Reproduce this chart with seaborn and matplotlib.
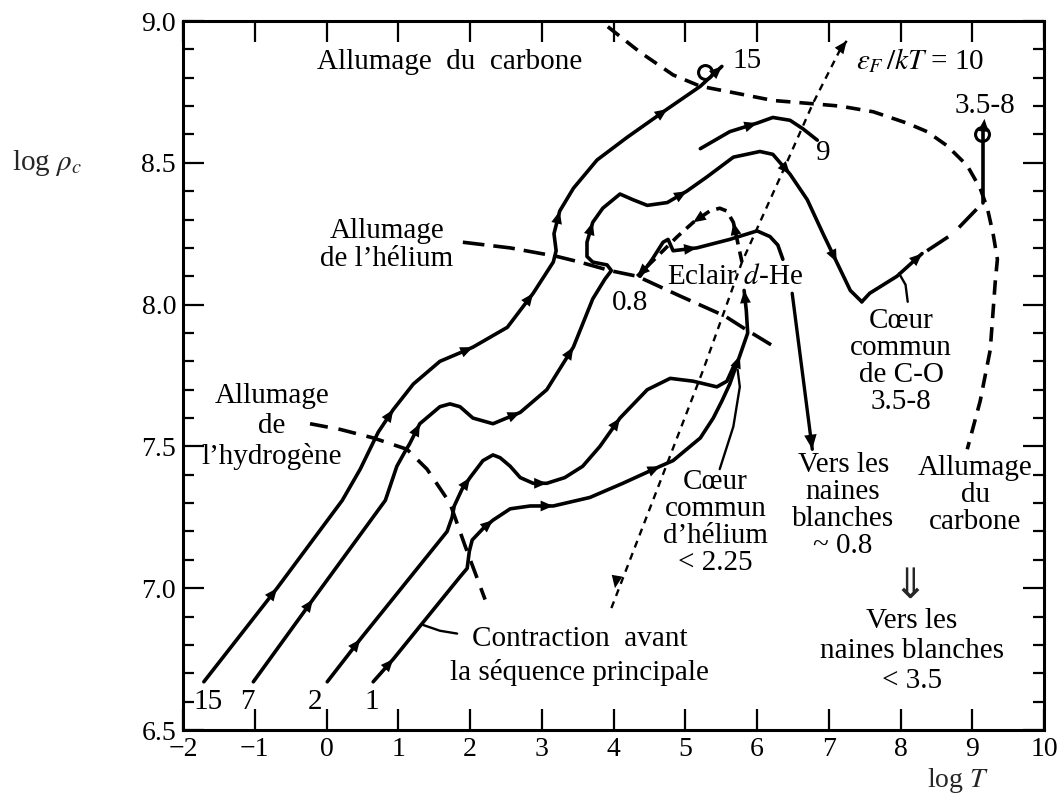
import matplotlib
matplotlib.use("Agg")
import numpy as np
import pandas as pd
import matplotlib.pyplot as plt
import seaborn as sns
from matplotlib.ticker import MultipleLocator

##### DATA (log T, log rho_c) #####

# evolutionary tracks
T_15 = [-1.71, -0.69, 0.22, 0.47, 0.72, 0.93, 1.21, 1.58, 1.86, 2.04, 2.52, 2.88, 3.16, 3.20, 3.17,
        3.25, 3.44, 3.77, 4.19, 4.75, 5.21, 5.51]
R_15 = [6.67, 7.00, 7.31, 7.42, 7.55, 7.63, 7.72, 7.80, 7.83, 7.85, 7.92, 8.04, 8.15, 8.19, 8.25,
        8.33, 8.41, 8.51, 8.59, 8.69, 8.77, 8.84]
arrows_15 = [1, 5, 9, 11, 15, 19, 21]

T_7 = [-1.02, -0.19, 0.82, 0.98, 1.09, 1.16, 1.30, 1.58, 1.72, 1.86, 2.04, 2.32, 2.70, 3.07, 3.44,
       3.71, 3.88, 3.97, 3.91, 3.71, 3.63, 3.63, 3.71, 3.85, 4.09, 4.27, 4.47, 4.75, 5.02, 5.30,
       5.67, 6.04, 6.22, 6.46, 6.70, 6.92, 7.11, 7.30, 7.46]
R_7 = [6.67, 6.96, 7.31, 7.43, 7.48, 7.51, 7.58, 7.64, 7.65, 7.64, 7.60, 7.58, 7.62, 7.70, 7.85,
       8.02, 8.09, 8.12, 8.14, 8.15, 8.17, 8.22, 8.29, 8.34, 8.39, 8.37, 8.35, 8.36, 8.40, 8.45,
       8.52, 8.54, 8.53, 8.46, 8.37, 8.25, 8.15, 8.05, 8.01]
arrows_7 = [1, 6, 12, 14, 22, 28, 33, 36]

T_2 = [0.01, 0.47, 1.68, 1.75, 1.78, 1.89, 2.00, 2.18, 2.32, 2.42, 2.56, 2.70, 2.88, 3.07, 3.32,
       3.57, 3.81, 4.09, 4.47, 4.79, 5.11, 5.44, 5.58, 5.67]
R_2 = [6.67, 6.82, 7.20, 7.25, 7.29, 7.35, 7.39, 7.45, 7.47, 7.46, 7.43, 7.39, 7.37, 7.37, 7.39,
       7.43, 7.50, 7.60, 7.70, 7.74, 7.73, 7.71, 7.73, 7.78]
arrows_2 = [1, 6, 13, 17]

T_1 = [0.65, 0.93, 1.86, 1.96, 1.99, 2.03, 2.18, 2.32, 2.56, 2.84, 3.16, 3.67, 4.13, 4.65, 4.83,
       5.02, 5.21, 5.39, 5.51, 5.62, 5.76, 5.87, 5.85, 5.82]
R_1 = [6.67, 6.75, 7.04, 7.07, 7.13, 7.17, 7.21, 7.24, 7.28, 7.29, 7.29, 7.32, 7.37, 7.43, 7.45,
       7.49, 7.53, 7.60, 7.66, 7.72, 7.82, 7.90, 7.98, 8.05]
arrows_1 = [1, 7, 10, 13, 20, 23]

T_9 = [5.21, 5.62, 6.00, 6.22, 6.46, 6.64, 6.84]
R_9 = [8.55, 8.61, 8.64, 8.66, 8.65, 8.62, 8.58]
arrows_9 = [2]

# common C-O core
T_co = [7.46, 7.57, 7.95, 8.30]
R_co = [8.01, 8.04, 8.10, 8.18]
T_co_dash = [8.37, 8.73, 9.15]
R_co_dash = [8.19, 8.25, 8.36]
T_co_up = [9.15, 9.15]
R_co_up = [8.36, 8.63]

# helium flash
T_flash = [5.79, 5.73, 5.67, 5.58, 5.48, 5.34, 5.11, 4.89, 4.61, 4.33]
R_flash = [8.15, 8.22, 8.29, 8.33, 8.34, 8.33, 8.29, 8.24, 8.17, 8.10]
arrows_flash = [2, 6, 9]
T_after = [4.37, 4.54, 4.69, 4.76, 4.83, 5.16, 5.62, 6.00, 6.18, 6.29, 6.36]
R_after = [8.10, 8.16, 8.22, 8.23, 8.19, 8.20, 8.23, 8.26, 8.24, 8.21, 8.16]
arrows_after = [5]

# ignition lines
T_H = [-0.23, 0.19, 0.65, 1.12, 1.40, 1.72, 1.93, 2.21]
R_H = [7.58, 7.56, 7.53, 7.49, 7.42, 7.30, 7.15, 6.96]
T_He = [1.90, 2.56, 3.21, 3.53, 3.95, 4.33, 4.93, 5.55, 5.86, 6.25]
R_He = [8.22, 8.20, 8.17, 8.15, 8.12, 8.10, 8.03, 7.96, 7.91, 7.85]
T_C = [3.92, 4.37, 4.83, 5.21, 5.62, 6.22, 6.70, 7.16, 7.62, 8.09, 8.37, 8.65, 8.93, 9.11, 9.21,
       9.29, 9.35, 9.32, 9.25, 9.11, 8.93]
R_C = [8.98, 8.89, 8.81, 8.77, 8.75, 8.72, 8.71, 8.70, 8.68, 8.64, 8.61, 8.56, 8.49, 8.41, 8.34,
       8.25, 8.16, 8.08, 7.84, 7.66, 7.49]

# degeneracy line eps_F/kT = 10
T_eps = [3.97, 4.55, 5.25, 5.79, 6.36, 6.78, 7.16, 7.25]
R_eps = [6.93, 7.31, 7.77, 8.15, 8.47, 8.71, 8.90, 8.93]

# label pointers
T_ptr_contr = [1.35, 1.58, 1.82]
R_ptr_contr = [6.87, 6.85, 6.84]
T_ptr_he = [5.48, 5.67, 5.76, 5.73]
R_ptr_he = [7.42, 7.57, 7.71, 7.77]
T_ptr_co = [8.10, 8.07, 7.98]
R_ptr_co = [8.01, 8.07, 8.11]
T_ptr_wd = [6.49, 6.77]
R_ptr_wd = [8.04, 7.49]

# open circles (carbon ignition reached)
T_circ = [5.28, 9.14]
R_circ = [8.82, 8.60]

# mass labels at track starts
start_labels = ["15", "7", "2", "1"]
start_T = [-1.65, -1.11, -0.16, 0.63]

##### PLOT #####
sns.set_theme(style="ticks")
plt.rcParams['font.family'] = ['Liberation Serif', 'DejaVu Serif']
plt.rcParams['mathtext.fontset'] = 'stix'
FS = 21

fig = plt.figure(figsize=(10.58, 7.94), dpi=100)
ax = fig.add_axes([0.173, 0.0806, 0.8138, 0.8929])


def curve(T, R, ls='-', lw=2.6):
    sns.lineplot(x=T, y=R, sort=False, estimator=None, color='black', lw=lw, linestyle=ls, ax=ax)


def heads(T, R, idx, scale=13):
    for i in idx:
        ax.annotate('', xy=(T[i], R[i]), xytext=(T[i - 1], R[i - 1]),
                    arrowprops=dict(arrowstyle='-|>,head_length=0.7,head_width=0.3', color='black',
                                    lw=0, shrinkA=0, shrinkB=0, mutation_scale=scale))


# tracks
for T, R, a in [(T_15, R_15, arrows_15), (T_7, R_7, arrows_7), (T_2, R_2, arrows_2),
                (T_1, R_1, arrows_1), (T_9, R_9, arrows_9), (T_after, R_after, arrows_after)]:
    curve(T, R)
    heads(T, R, a)

curve(T_co, R_co)
heads(T_co, R_co, [3])
curve(T_co_dash, R_co_dash, ls=(0, (7, 4)))
curve(T_co_up, R_co_up)
ax.annotate('', xy=(9.17, 8.655), xytext=(9.15, 8.60),
            arrowprops=dict(arrowstyle='-|>,head_length=0.7,head_width=0.3', color='black',
                            lw=0, shrinkA=0, shrinkB=0, mutation_scale=13))

curve(T_flash, R_flash, ls=(0, (3, 2)))
heads(T_flash, R_flash, arrows_flash)

# ignition lines
curve(T_H, R_H, ls=(0, (5, 3)))
curve(T_He, R_He, ls=(0, (6, 2.5)))
curve(T_C, R_C, ls=(0, (4, 2.5)))

# degeneracy line
curve(T_eps, R_eps, ls=(0, (3, 2.5)), lw=1.7)
heads(T_eps, R_eps, [7])
ax.annotate('', xy=(4.02, 7.00), xytext=(4.10, 7.12),
            arrowprops=dict(arrowstyle='-|>,head_length=0.7,head_width=0.3', color='black',
                            lw=0, shrinkA=0, shrinkB=0, mutation_scale=13))

# pointers
curve(T_ptr_contr, R_ptr_contr, lw=1.7)
curve(T_ptr_he, R_ptr_he, lw=1.7)
curve(T_ptr_co, R_ptr_co, lw=1.7)
curve(T_ptr_wd, R_ptr_wd, lw=2.4)
heads(T_ptr_wd, R_ptr_wd, [1], scale=15)

ax.plot(T_circ, R_circ, 'o', ms=10, mfc='none', mec='black', mew=2.2)

# texts
txt = dict(fontsize=FS, ha='center', va='center', color='black')
ax.text(1.72, 8.855, "Allumage  du  carbone", **txt)
ax.text(5.86, 8.86, "15", **txt)
ax.text(8.27, 8.86, r"$\epsilon_F\,/kT$ = 10", **txt)
ax.text(9.18, 8.70, "3.5-8", **txt)
ax.text(6.92, 8.535, "9", **txt)
ax.text(0.84, 8.21, "Allumage\nde l’hélium", linespacing=1.1, **txt)
ax.text(4.23, 8.006, "0.8", **txt)
ax.text(5.69, 8.097, "Eclair $d$-He", **txt)
ax.text(8.01, 7.80, "Cœur\ncommun\nde C-O\n3.5-8", linespacing=1.05, **txt)
ax.text(-0.76, 7.57, "Allumage\nde\nl’hydrogène", linespacing=1.2, **txt)
ax.text(5.42, 7.23, "Cœur\ncommun\nd’hélium\n< 2.25", linespacing=1.05, **txt)
ax.text(7.20, 7.29, "Vers les\nnaines\nblanches\n~ 0.8", linespacing=1.05, **txt)
ax.text(9.04, 7.33, "Allumage\ndu\ncarbone", linespacing=1.05, **txt)
ax.text(8.13, 7.01, "⇓", fontsize=30, ha='center', va='center', family='DejaVu Sans')
ax.text(8.16, 6.78, "Vers les\nnaines blanches\n< 3.5", linespacing=1.2, **txt)
ax.text(3.53, 6.76, "Contraction  avant\nla séquence principale", linespacing=1.35, **txt)
for lab, t in zip(start_labels, start_T):
    ax.text(t, 6.60, lab, **txt)

# axes
ax.set_xlim(-2, 10)
ax.set_ylim(6.5, 9.0)
ax.set_xticks(range(-2, 11))
ax.yaxis.set_major_locator(MultipleLocator(0.5))
ax.yaxis.set_minor_locator(MultipleLocator(0.1))
ax.yaxis.set_major_formatter(plt.FormatStrFormatter('%.1f'))
ax.tick_params(which='both', direction='in', top=True, right=True, labelsize=20, width=1.6,
               colors='black')
ax.tick_params(which='major', length=15)
ax.tick_params(axis='x', which='major', pad=5)
ax.tick_params(axis='y', which='major', pad=5)
ax.tick_params(which='minor', length=8)
ax.set_xlabel('')
ax.set_ylabel('')
for s in ax.spines.values():
    s.set_linewidth(2.2)
    s.set_color('black')

fig.text(0.044, 0.795, r"log $\rho_c$", fontsize=FS, ha='center', va='center')
fig.text(0.905, 0.009, r"log $T$", fontsize=20, ha='center', va='baseline')

fig.savefig("out.png", dpi=100, facecolor='white')
